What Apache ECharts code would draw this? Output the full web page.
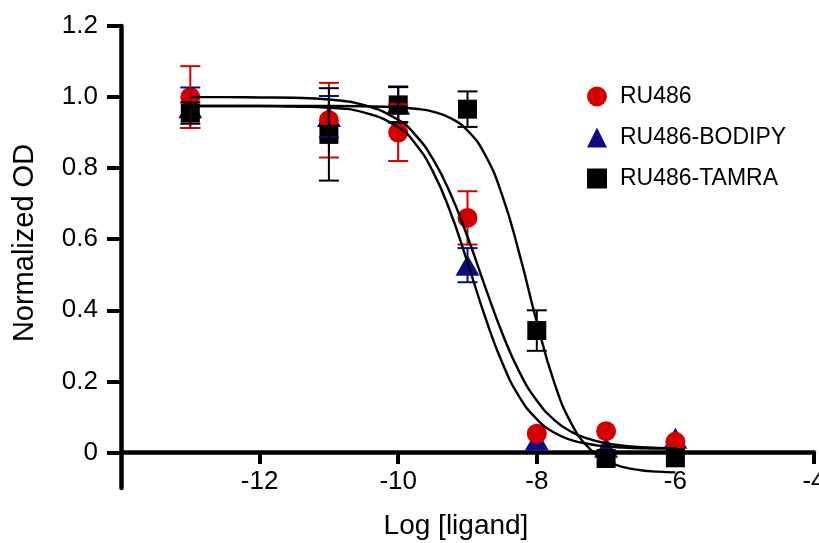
<!DOCTYPE html>
<html>
<head>
<meta charset="utf-8">
<script src="https://cdn.jsdelivr.net/npm/echarts@6/dist/echarts.min.js"></script>
<style>
html,body{margin:0;padding:0;background:#fff;}
#chart{width:819px;height:543px;}
</style>
</head>
<body>
<div id="chart"></div>
<script>
// ---- data ----
const logDose   = [-13, -11, -10, -9, -8, -7, -6];
const ru486     = [1.00, 0.935, 0.90, 0.66, 0.053, 0.06, 0.03];
const ru486Err  = [0.087, 0.105, 0.08, 0.075, 0, 0, 0];
const bodipy    = [0.97, 0.945, 0.98, 0.527, 0.035, 0.015, 0.04];
const bodipyErr = [0.057, 0.058, 0.05, 0.048, 0, 0, 0];
const tamra     = [0.955, 0.895, 0.978, 0.966, 0.343, -0.017, -0.015];
const tamraErr  = [0.03, 0.13, 0.05, 0.05, 0.057, 0, 0];

// fitted curves
const fitX      = [-13,-12.5,-12,-11.5,-11,-10.5,-10,-9.75,-9.5,-9.25,-9,-8.75,-8.5,-8.25,-8,-7.75,-7.5,-7.25,-7,-6.75,-6.5,-6.25,-6];
const fitRu486  = [1.000,1.000,0.999,0.998,0.993,0.978,0.936,0.893,0.826,0.730,0.607,0.469,0.336,0.226,0.146,0.092,0.058,0.038,0.026,0.019,0.015,0.013,0.012];
const fitBodipy = [0.975,0.975,0.975,0.973,0.970,0.957,0.915,0.868,0.791,0.678,0.535,0.384,0.253,0.156,0.094,0.056,0.035,0.024,0.017,0.014,0.012,0.011,0.011];
const fitTamra  = [0.975,0.975,0.975,0.975,0.975,0.974,0.971,0.967,0.959,0.941,0.906,0.839,0.724,0.558,0.367,0.198,0.081,0.013,-0.023,-0.041,-0.050,-0.054,-0.056];

const xTicks = [-12, -10, -8, -6, -4];
const yTicks = [0, 0.2, 0.4, 0.6, 0.8, 1.0, 1.2];

const names = ['RU486', 'RU486-BODIPY', 'RU486-TAMRA'];
const RED = '#d40000', NAVY = '#0c0c84', BLACK = '#000000';
const FONT = 'Liberation Sans, Arial, sans-serif';

function pts(xs, ys) { return xs.map((x, i) => [x, ys[i]]); }
function errData(xs, ys, es) {
  const out = [];
  xs.forEach((x, i) => { if (es[i] > 0) out.push([x, ys[i] - es[i], ys[i] + es[i]]); });
  return out;
}
function errSeries(name, data, color) {
  return {
    type: 'custom', name: name + ' err', z: 5, silent: true,
    xAxisIndex: 1, yAxisIndex: 1,
    encode: { x: 0, y: [1, 2] },
    data: data,
    renderItem: function (params, api) {
      const x = api.value(0), lo = api.value(1), hi = api.value(2);
      const a = api.coord([x, hi]), b = api.coord([x, lo]);
      const w = 10;
      const st = { stroke: color, lineWidth: 2 };
      return { type: 'group', children: [
        { type: 'line', shape: { x1: a[0], y1: a[1], x2: b[0], y2: b[1] }, style: st },
        { type: 'line', shape: { x1: a[0] - w, y1: a[1], x2: a[0] + w, y2: a[1] }, style: st },
        { type: 'line', shape: { x1: b[0] - w, y1: b[1], x2: b[0] + w, y2: b[1] }, style: st }
      ]};
    }
  };
}
function curve(ys) {
  return {
    type: 'line', data: pts(fitX, ys), showSymbol: false, symbol: 'none',
    xAxisIndex: 1, yAxisIndex: 1,
    smooth: true, silent: true, z: 8, clip: false,
    lineStyle: { color: BLACK, width: 2.4 }
  };
}
function scatter(name, ys, symbol, size, color, z) {
  return { type: 'scatter', name: name, data: pts(logDose, ys), symbol: symbol, symbolSize: size,
           xAxisIndex: 1, yAxisIndex: 1, clip: false,
           itemStyle: { color: color, opacity: 1 }, z: z };
}

const chart = echarts.init(document.getElementById('chart'), null, { renderer: 'canvas' });
chart.setOption({
  backgroundColor: '#ffffff',
  animation: false,
  textStyle: { fontFamily: FONT },
  grid: [
    // grid 0: holds the x axis drawn at y = 0
    { left: 121, right: 5, top: 26, bottom: 91, containLabel: false, outerBoundsMode: 'none' },
    // grid 1: full plotting area (y from -0.1 to 1.2)
    { left: 121, right: 5, top: 26, bottom: 55, containLabel: false, outerBoundsMode: 'none' }
  ],
  legend: {
    data: names, orient: 'vertical', left: 582, top: 80,
    itemWidth: 20, itemHeight: 20, itemGap: 18, selectedMode: false,
    textStyle: { fontSize: 23, color: '#000', fontFamily: FONT, padding: [0, 0, 0, 8] }
  },
  xAxis: [
    {
      gridIndex: 0, type: 'value', min: -14, max: -4, interval: 2,
      name: 'Log [ligand]', nameLocation: 'middle', nameGap: 60,
      nameTextStyle: { fontSize: 28, color: '#000', fontFamily: FONT, padding: [0, 23, 0, 0] },
      axisLine: { onZero: false, lineStyle: { color: '#000', width: 4.5 } },
      axisTick: { show: true, length: 12, lineStyle: { color: '#000', width: 4 }, customValues: xTicks },
      axisLabel: { fontSize: 26, color: '#000', margin: 17, customValues: xTicks, fontFamily: FONT },
      splitLine: { show: false }
    },
    { gridIndex: 1, type: 'value', min: -14, max: -4, interval: 2, show: false, splitLine: { show: false } }
  ],
  yAxis: [
    { gridIndex: 0, type: 'value', min: 0, max: 1.2, show: false, splitLine: { show: false } },
    {
      gridIndex: 1, type: 'value', min: -0.1, max: 1.2,
      name: 'Normalized OD', nameLocation: 'middle', nameGap: 82,
      nameTextStyle: { fontSize: 29, color: '#000', fontFamily: FONT, padding: [0, 0, 0, 28] },
      axisLine: { onZero: false, lineStyle: { color: '#000', width: 4.5 } },
      axisTick: { show: true, length: 14, lineStyle: { color: '#000', width: 4 }, customValues: yTicks },
      axisLabel: {
        fontSize: 26, color: '#000', margin: 23, customValues: yTicks, fontFamily: FONT,
        formatter: v => (Math.abs(v) < 1e-9 ? '0' : Number(v).toFixed(1))
      },
      splitLine: { show: false }
    }
  ],
  series: [
    scatter(names[1], bodipy, 'triangle', [24, 21], NAVY, 2),
    scatter(names[0], ru486, 'circle', 20, RED, 3),
    scatter(names[2], tamra, 'rect', 19, BLACK, 4),
    errSeries(names[1], errData(logDose, bodipy, bodipyErr), NAVY),
    errSeries(names[0], errData(logDose, ru486, ru486Err), RED),
    errSeries(names[2], errData(logDose, tamra, tamraErr), BLACK),
    curve(fitRu486), curve(fitBodipy), curve(fitTamra)
  ]
});
</script>
</body>
</html>
